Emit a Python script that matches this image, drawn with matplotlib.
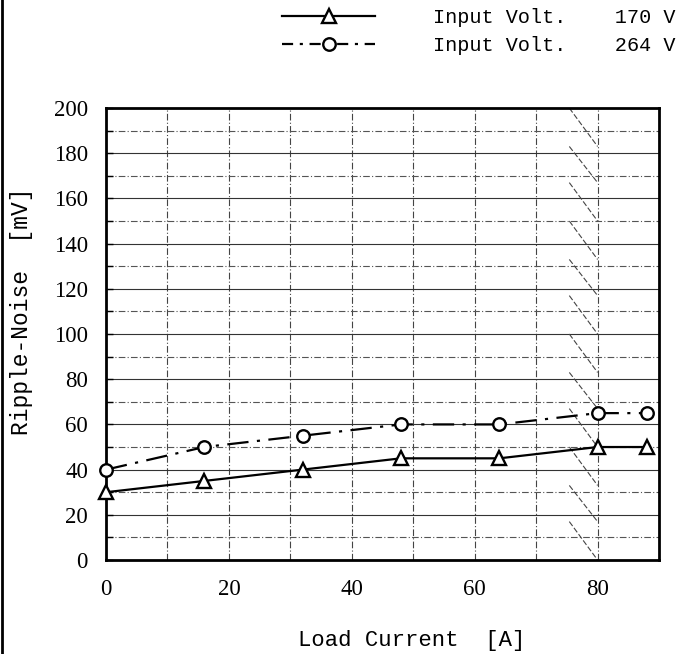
import matplotlib.pyplot as plt
from matplotlib.lines import Line2D

load_current = [0, 16, 32, 48, 64, 80, 88]
noise_170v = [30, 35, 40, 45, 45, 50, 50]
noise_264v = [40, 50, 55, 60, 60, 65, 65]
labels = ["Input Volt.    170 V", "Input Volt.    264 V"]
x_ticks = [0, 20, 40, 60, 80]
y_ticks = list(range(0, 201, 20))
# derating area hatch (top ends of the slanted strokes)
hatch_y = [200, 183, 167, 150, 133, 117, 100, 83, 67, 50, 33, 17, 0]
derate_from, derate_to = 75.4, 80

mono = ["Liberation Mono", "DejaVu Sans Mono"]
serif = ["Liberation Serif", "DejaVu Serif"]
dashdot = (0, (9.6, 3.8, 1.4, 3.8))

fig = plt.figure(figsize=(6.84, 6.54), dpi=100)
ax = fig.add_axes([0.155, 0.1437, 0.8085, 0.6911])

# grid
for v in range(10, 90, 10):
    ax.axvline(v, color="#444444", lw=0.8, ls=(0, (6, 2, 1, 2)), zorder=1)
for v in range(10, 200, 10):
    if v % 20 == 0:
        ax.axhline(v, color="#333333", lw=0.8, ls="-", zorder=1)
    else:
        ax.axhline(v, color="#555555", lw=0.8, ls=(0, (6, 2, 1, 2)), zorder=1)

for y0, y1 in zip(hatch_y[:-1], hatch_y[1:]):
    ax.plot([derate_from, derate_to], [y0, y1], color="#444444", lw=0.8,
            ls=(0, (5, 2)), zorder=1)

ax.plot(load_current, noise_170v, color="black", lw=1.6, marker="^",
        ms=10, mfc="white", mec="black", mew=1.7, zorder=3, clip_on=False)
ax.plot(load_current, noise_264v, color="black", lw=1.6, ls=dashdot,
        marker="o", ms=9, mfc="white", mec="black", mew=1.7, zorder=3,
        clip_on=False)

ax.set_xlim(0, 90)
ax.set_ylim(0, 200)
ax.set_xticks(x_ticks)
ax.set_yticks(y_ticks)
ax.set_yticks(range(10, 200, 20), minor=True)
ax.tick_params(axis="x", length=0, pad=14, labelsize=16.5)
ax.tick_params(axis="y", which="both", direction="in", length=5, width=1,
               pad=13, labelsize=16.5)
for lab in ax.get_xticklabels() + ax.get_yticklabels():
    lab.set_family(serif)
for s in ax.spines.values():
    s.set_linewidth(2)

ax.set_xlabel("Load Current  [A]", family=mono, fontsize=16, va="center")
ax.xaxis.set_label_coords(0.553, -0.177)
ax.set_ylabel("Ripple-Noise  [mV]", family=mono, fontsize=16.5, va="center")
ax.yaxis.set_label_coords(-0.152, 0.55)

handles = [
    Line2D([], [], color="black", lw=1.6, marker="^", ms=10, mfc="white",
           mec="black", mew=1.7),
    Line2D([], [], color="black", lw=1.6, ls=(0, (5, 3, 1.4, 3)),
           marker="o", ms=9, mfc="white", mec="black", mew=1.7),
]
fig.legend(handles, labels, loc="upper right", bbox_to_anchor=(1.0, 1.0),
           frameon=False, handlelength=4.6, handletextpad=2.9,
           labelspacing=0.45, borderaxespad=0.2, borderpad=0.2,
           prop={"family": mono, "size": 14.5})

fig.add_artist(Line2D([0.003, 0.003], [0, 1], color="black", lw=2,
                      transform=fig.transFigure))

fig.savefig("out.png", dpi=100)
